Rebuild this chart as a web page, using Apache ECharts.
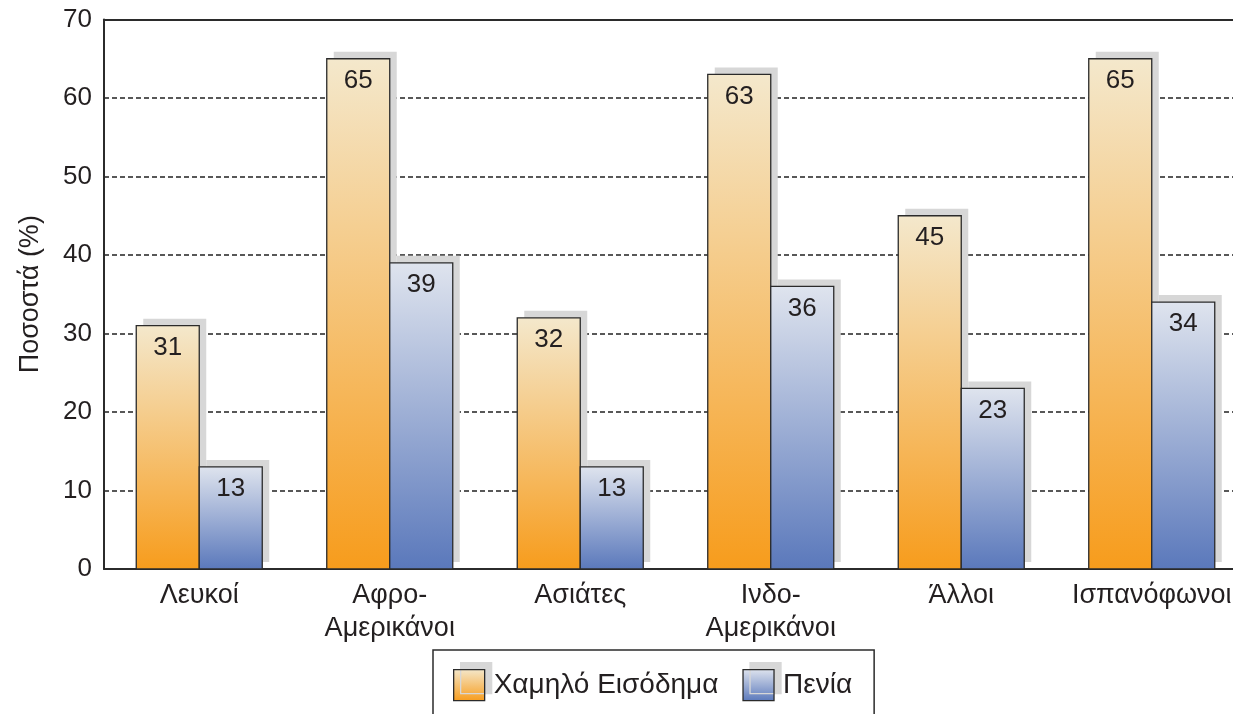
<!DOCTYPE html>
<html>
<head>
<meta charset="utf-8">
<script src="https://cdn.jsdelivr.net/npm/echarts@6/dist/echarts.min.js"></script>
<style>
html, body { margin: 0; padding: 0; background: #fff; }
#chart { width: 1233px; height: 714px; }
</style>
</head>
<body>
<div id="chart"></div>
<script>
// data
var categories = ['Λευκοί', 'Αφρο-\nΑμερικάνοι', 'Ασιάτες', 'Ινδο-\nΑμερικάνοι', 'Άλλοι', 'Ισπανόφωνοι'];
var lowIncome = [31, 65, 32, 63, 45, 65];
var poverty = [13, 39, 13, 36, 23, 34];
var seriesNames = ['Χαμηλό Εισόδημα', 'Πενία'];
var yTicks = { min: 0, max: 70, interval: 10 };

var FONT = 'Liberation Sans, Arial, sans-serif';
var TXT = '#231f20';
var EDGE = '#2b2b2b';
var SHADOW = '#d7d7d7';
var BAR_W = 63;
var SH = 7; // shadow offset

function grad(top, bottom) {
    return new echarts.graphic.LinearGradient(0, 0, 0, 1, [
        { offset: 0, color: top },
        { offset: 1, color: bottom }
    ]);
}

var orangeFill = grad('#f4e8cc', '#f79c1c');
var blueFill = grad('#dfe4ee', '#5a78bb');

// bar with a flat gray drop shadow up-right, value printed inside the top
function makeRender(side, fill) {
    return function (params, api) {
        var cat = api.value(0);
        var val = api.value(1);
        var base = api.coord([cat, 0]);
        var top = api.coord([cat, val]);
        var x = side === 0 ? base[0] - BAR_W : base[0];
        var h = base[1] - top[1];
        return {
            type: 'group',
            children: [{
                type: 'rect',
                shape: { x: x + SH, y: top[1] - SH, width: BAR_W, height: h },
                style: { fill: SHADOW },
                z2: 0
            }, {
                type: 'rect',
                shape: { x: x, y: top[1], width: BAR_W, height: h },
                style: { fill: fill, stroke: EDGE, lineWidth: 1.3 },
                z2: 1
            }, {
                type: 'text',
                x: x + BAR_W / 2,
                y: top[1] + 9,
                style: {
                    text: String(val),
                    align: 'center',
                    verticalAlign: 'top',
                    fontSize: 26,
                    fontFamily: FONT,
                    fill: TXT
                },
                z2: 2
            }]
        };
    };
}

function toPairs(arr) {
    var out = [];
    for (var i = 0; i < arr.length; i++) {
        out.push([i, arr[i]]);
    }
    return out;
}

var chart = echarts.init(document.getElementById('chart'));
var option = {
    animation: false,
    textStyle: { fontFamily: FONT },
    grid: { left: 104, right: -14, top: 19.5, bottom: 145, outerBoundsMode: 'none', containLabel: false },
    legend: {
        left: 433,
        top: 650,
        orient: 'horizontal',
        padding: [19, 22, 30, 20],
        borderColor: EDGE,
        borderWidth: 1.5,
        itemWidth: 31,
        itemHeight: 31,
        itemGap: 24,
        icon: 'rect',
        itemStyle: {
            borderColor: EDGE,
            borderWidth: 1.3,
            shadowColor: SHADOW,
            shadowBlur: 0,
            shadowOffsetX: SH,
            shadowOffsetY: -SH
        },
        textStyle: { fontSize: 28, color: TXT, fontFamily: FONT, padding: [0, 0, 0, 4] },
        data: seriesNames
    },
    xAxis: [{
        type: 'category',
        data: categories,
        axisLine: { lineStyle: { color: EDGE, width: 2 } },
        axisTick: { show: false },
        axisLabel: { interval: 0, fontSize: 27, color: TXT, margin: 10, lineHeight: 33, fontFamily: FONT }
    }, {
        type: 'category',
        position: 'top',
        data: categories,
        axisLine: { show: true, lineStyle: { color: EDGE, width: 2 } },
        axisTick: { show: false },
        axisLabel: { show: false }
    }],
    yAxis: {
        type: 'value',
        min: yTicks.min,
        max: yTicks.max,
        interval: yTicks.interval,
        name: 'Ποσοστά (%)',
        nameLocation: 'middle',
        nameGap: 60,
        nameTextStyle: { fontSize: 27, color: TXT, fontFamily: FONT },
        axisLine: { show: true, lineStyle: { color: EDGE, width: 2 } },
        axisTick: { show: false },
        axisLabel: { fontSize: 26, color: TXT, margin: 12, fontFamily: FONT },
        splitLine: { lineStyle: { color: '#222', width: 1.5, type: [5, 3] } }
    },
    series: [{
        name: seriesNames[0],
        type: 'custom',
        renderItem: makeRender(0, orangeFill),
        encode: { x: 0, y: 1 },
        itemStyle: { color: orangeFill, borderColor: EDGE, borderWidth: 1.3 },
        data: toPairs(lowIncome)
    }, {
        name: seriesNames[1],
        type: 'custom',
        renderItem: makeRender(1, blueFill),
        encode: { x: 0, y: 1 },
        itemStyle: { color: blueFill, borderColor: EDGE, borderWidth: 1.3 },
        data: toPairs(poverty)
    }]
};
chart.setOption(option);
</script>
</body>
</html>
